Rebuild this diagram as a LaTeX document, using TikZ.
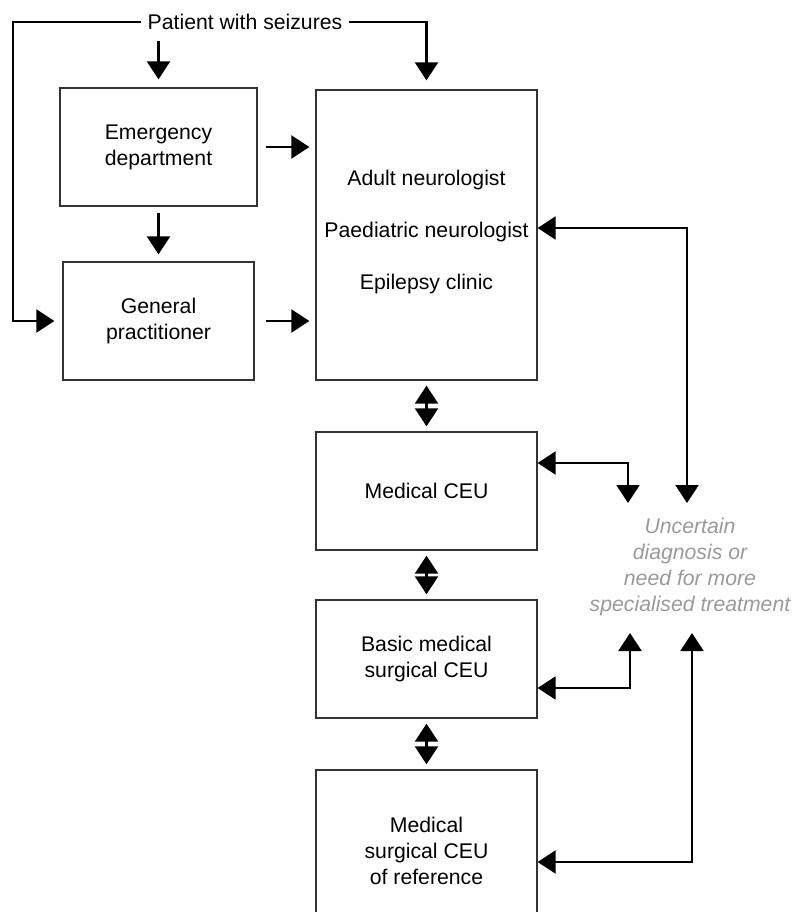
\documentclass[tikz,border=0pt]{standalone}
\usepackage{fontspec}
\setmainfont{Liberation Sans}
\usetikzlibrary{arrows.meta}
\definecolor{boxline}{HTML}{333333}
\definecolor{uncgray}{HTML}{9A9A9A}
\tikzset{
  box/.style={draw=boxline, line width=1.3bp, align=center, inner sep=0pt,
    font=\fontsize{21.3}{26}\selectfont},
  plain/.style={align=center, inner sep=6bp, font=\fontsize{21.3}{26}\selectfont},
  conn/.style={line width=2.3bp, -{Triangle[length=18bp,width=23bp]}},
  both/.style={line width=2.3bp, {Triangle[length=18bp,width=23bp]}-{Triangle[length=18bp,width=23bp]}},
}
\begin{document}
\begin{tikzpicture}[x=1bp,y=-1bp]
\useasboundingbox (0,0) rectangle (792,912);
\node[plain] (patient) at (245,22) {Patient with seizures};
\node[box, minimum width=197bp, minimum height=118bp] (ed) at (158.5,147) {Emergency\\department};
\node[box, minimum width=191bp, minimum height=118bp] (gp) at (158.5,321) {General\\practitioner};
\node[box, minimum width=221bp, minimum height=290bp] (adult) at (426.5,235)
  {Adult neurologist\\[26bp]Paediatric neurologist\\[26bp]Epilepsy clinic\\[-16bp]};
\node[box, minimum width=221bp, minimum height=118bp] (mceu) at (426.5,491) {Medical CEU};
\node[box, minimum width=221bp, minimum height=118bp] (basic) at (426.5,659) {Basic medical\\surgical CEU};
\node[box, minimum width=221bp, minimum height=162bp] (ref) at (426.5,851) {Medical\\surgical CEU\\of reference};
\node[plain, text=uncgray, font=\fontsize{21.3}{26}\selectfont\itshape, inner sep=0pt] (unc) at (690,567)
  {Uncertain\\diagnosis or\\need for more\\specialised treatment};
\coordinate (t1) at (628,503);
\coordinate (t2) at (687,503);
\coordinate (t3) at (630,633);
\coordinate (t4) at (692,633);
% from patient
\draw[conn, shorten >=8bp] (patient.west) -- (13,22) |- (gp.west);
\draw[conn, shorten >=9bp] (patient.east) -| (adult.north);
\draw[conn] ([yshift=46bp]ed.north) -- ([yshift=8bp]ed.north);
% ED / GP
\draw[conn] ([yshift=-6bp]ed.south) -- ([yshift=7bp]gp.north);
\draw[conn] ([xshift=8bp]ed.east) -- ([xshift=-6bp]ed.east -| adult.west);
\draw[conn] ([xshift=11bp]gp.east) -- ([xshift=-6bp]gp.east -| adult.west);
% vertical chain
\draw[both, shorten <=5bp, shorten >=5bp] (adult.south) -- (mceu.north);
\draw[both, shorten <=5bp, shorten >=5bp] (mceu.south) -- (basic.north);
\draw[both, shorten <=5bp, shorten >=5bp] (basic.south) -- (ref.north);
% right side
\draw[both] ([yshift=7bp]adult.east) -| (t2);
\draw[both] ([yshift=28bp]mceu.east) -| (t1);
\draw[both] ([yshift=-29bp]basic.east) -| (t3);
\draw[both] ([yshift=-11bp]ref.east) -| (t4);
\end{tikzpicture}
\end{document}
